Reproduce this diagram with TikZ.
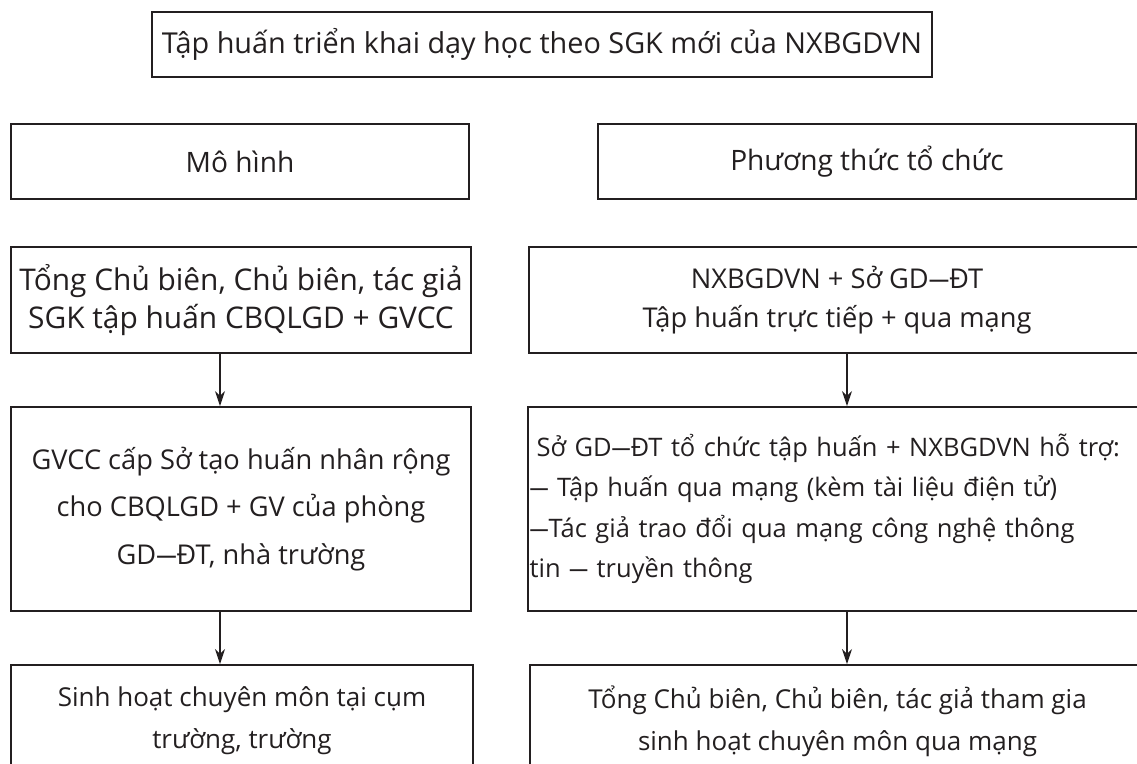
\documentclass[tikz,border=0pt]{standalone}
\usepackage{fontspec}
\setmainfont{Open Sans}
\usetikzlibrary{arrows.meta}
\definecolor{ink}{HTML}{231F20}
\newcommand{\gach}{\scalebox{0.75}[1]{—}}

\begin{document}
\begin{tikzpicture}[x=0.02cm,y=-0.02cm,color=ink,
                    box/.style={draw,line width=1.1pt,inner sep=0pt,align=center},
                    head text/.style={font=\fontsize{16.4}{20}\selectfont},
                    big text/.style={font=\fontsize{17}{22}\selectfont},
                    body text/.style={font=\fontsize{15.5}{27}\selectfont},
                    list text/.style={font=\fontsize{14.5}{23}\selectfont},
                    arr/.style={-{Stealth[length=0.3cm,width=0.2cm]},line width=0.8pt}]

        \useasboundingbox (0,0) rectangle (1137,764);
        \clip (0,0) rectangle (1137,764);

        % Define boxes
        \node[box,head text,minimum width=15.6cm,minimum height=1.3cm] (title) at (542,44.5)
            {Tập huấn triển khai dạy học theo SGK mới của NXBGDVN};
        \node[box,head text,font=\fontsize{16}{20}\selectfont,minimum width=9.16cm,minimum height=1.5cm] (model) at (240,161.5) {Mô hình};
        \node[box,head text,font=\fontsize{16}{20}\selectfont,minimum width=10.76cm,minimum height=1.5cm] (method) at (867,161.5) {Phương thức tổ chức};

        % left column
        \node[box,big text,minimum width=9.2cm,minimum height=2.12cm] (train) at (241,300)
            {Tổng Chủ biên, Chủ biên, tác giả\\SGK tập huấn CBQLGD + GVCC};
        \node[box,body text,minimum width=9.2cm,minimum height=4.08cm] (spread) at (241,509)
            {GVCC cấp Sở tạo huấn nhân rộng\\cho CBQLGD + GV của phòng\\GD\gach ĐT, nhà trường};
        \node[box,font=\fontsize{14.8}{24}\selectfont,minimum width=9.24cm,minimum height=2.24cm] (meet) at (242,721)
            {Sinh hoạt chuyên môn tại cụm\\trường, trường};

        % right column
        \node[box,font=\fontsize{15.5}{22}\selectfont,minimum width=12.32cm,minimum height=2.12cm] (direct) at (837,300)
            {NXBGDVN + Sở GD\gach ĐT\\Tập huấn trực tiếp + qua mạng};
        \node[box,list text,align=left,text width=12.3cm,inner xsep=1pt,minimum height=4.08cm] (online) at (837,509)
            {\hspace*{4pt}Sở GD\gach ĐT tổ chức tập huấn + NXBGDVN hỗ trợ:\\\gach\ Tập huấn qua mạng (kèm tài liệu điện tử)\\\gach Tác giả trao đổi qua mạng công nghệ thông\\tin \gach\ truyền thông};
        \node[box,font=\fontsize{14.8}{24}\selectfont,minimum width=12.3cm,minimum height=2.24cm] (share) at (837.5,721)
            {Tổng Chủ biên, Chủ biên, tác giả tham gia\\sinh hoạt chuyên môn qua mạng};

        % Define arrows
        \coordinate (lx) at (220,0);
        \coordinate (rx) at (847,0);
        \draw[arr] (train.south -| lx) -- (spread.north -| lx);
        \draw[arr] (spread.south -| lx) -- (meet.north -| lx);
        \draw[arr] (direct.south -| rx) -- (online.north -| rx);
        \draw[arr] (online.south -| rx) -- (share.north -| rx);
\end{tikzpicture}
\end{document}
